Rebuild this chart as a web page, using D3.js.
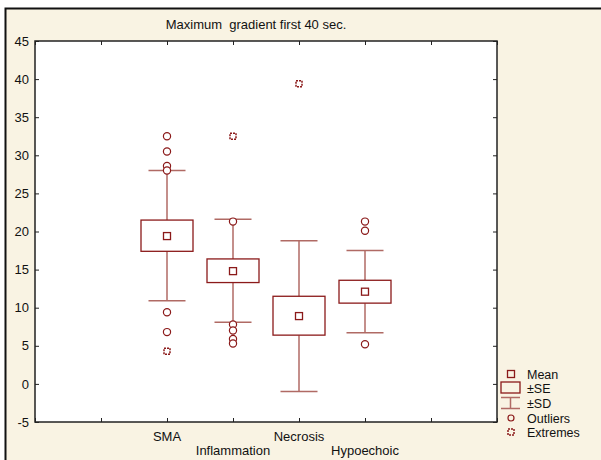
<!DOCTYPE html>
<html>
<head>
<meta charset="utf-8">
<script src="https://cdn.jsdelivr.net/npm/d3@7"></script>
<style>
  body { margin: 0; background: #fff; }
  text { font-family: Arial, "Liberation Sans", sans-serif; fill: #111; }
</style>
</head>
<body>
<script>
// ---------------- data ----------------
var categories = ["SMA", "Inflammation", "Necrosis", "Hypoechoic"];
var catPos = [2, 3, 4, 5];
var means = [19.4, 14.8, 8.9, 12.1];
var seLow = [17.4, 13.3, 6.4, 10.6];
var seHigh = [21.5, 16.4, 11.5, 13.6];
var sdLow = [10.9, 8.1, -1.0, 6.7];
var sdHigh = [28.0, 21.6, 18.8, 17.5];
var outliers = [
  [32.5, 30.5, 28.6, 28.0, 9.4, 6.8],
  [21.3, 7.8, 7.0, 5.9, 5.3],
  [],
  [21.3, 20.1, 5.2]
];
var extremes = [[4.3], [32.5], [39.4], []];
var yTicks = [-5, 0, 5, 10, 15, 20, 25, 30, 35, 40, 45];
var xTicks = [0, 1, 2, 3, 4, 5, 6, 7];
var legendLabels = ["Mean", "±SE", "±SD", "Outliers", "Extremes"];

var width = 601, height = 460;
var boxColor = "#8b1a1a";
var whiskColor = "#b06a64";
var font = "Arial, 'Liberation Sans', sans-serif";

var svg = d3.select("body").append("svg")
  .attr("width", width)
  .attr("height", height);

// background panel
svg.append("rect")
  .attr("x", 5).attr("y", 8)
  .attr("width", width - 5).attr("height", height - 8)
  .attr("fill", "#f9f3e3");
svg.append("path")
  .attr("d", "M5.5," + height + "V8.5H" + width)
  .attr("fill", "none").attr("stroke", "#111").attr("stroke-width", 2);

var x = d3.scaleLinear().domain([0, 7]).range([35, 497]);
var y = d3.scaleLinear().domain([-5, 45]).range([422, 41]);

// plot area
svg.append("rect")
  .attr("x", x(0)).attr("y", y(45))
  .attr("width", x(7) - x(0)).attr("height", y(-5) - y(45))
  .attr("fill", "#fff").attr("stroke", "#222").attr("stroke-width", 1.5);

// axes
var gl = svg.append("g").attr("transform", "translate(" + x(0) + ",0)")
  .call(d3.axisLeft(y).tickValues(yTicks).tickSizeInner(-4).tickSizeOuter(0)
    .tickFormat(function (d) { return String(d); }));
var gr = svg.append("g").attr("transform", "translate(" + x(7) + ",0)")
  .call(d3.axisRight(y).tickValues(yTicks).tickSizeInner(-4).tickSizeOuter(0).tickFormat(""));
var gt = svg.append("g").attr("transform", "translate(0," + y(45) + ")")
  .call(d3.axisTop(x).tickValues(xTicks).tickSizeInner(-4).tickSizeOuter(0).tickFormat(""));
var gb = svg.append("g").attr("transform", "translate(0," + y(-5) + ")")
  .call(d3.axisBottom(x).tickValues(xTicks).tickSizeInner(-4).tickSizeOuter(0).tickFormat(""));
[gl, gr, gt, gb].forEach(function (g) {
  g.select(".domain").remove();
  g.selectAll(".tick line").attr("stroke", "#222");
  g.selectAll("text").attr("font-size", 13).attr("font-family", font).attr("fill", "#111");
});
gl.selectAll(".tick text").attr("x", -6);

// category labels (staggered)
svg.selectAll(".cat")
  .data(categories)
  .enter().append("text")
  .attr("class", "cat")
  .attr("x", function (d, i) { return x(catPos[i]); })
  .attr("y", function (d, i) { return i % 2 == 0 ? 441 : 455; })
  .attr("text-anchor", "middle")
  .attr("font-size", 13)
  .text(function (d) { return d; });

// title
svg.append("text")
  .attr("x", 256).attr("y", 29)
  .attr("text-anchor", "middle")
  .attr("font-size", 13)
  .attr("xml:space", "preserve")
  .text("Maximum  gradient first 40 sec.");

// boxes
var boxW = 52, capW = 37;
var g = svg.append("g");
categories.forEach(function (c, i) {
  var cx = x(catPos[i]);
  // whiskers
  g.append("line").attr("x1", cx).attr("x2", cx)
    .attr("y1", y(sdHigh[i])).attr("y2", y(seHigh[i]))
    .attr("stroke", whiskColor).attr("stroke-width", 1.5);
  g.append("line").attr("x1", cx).attr("x2", cx)
    .attr("y1", y(seLow[i])).attr("y2", y(sdLow[i]))
    .attr("stroke", whiskColor).attr("stroke-width", 1.5);
  [sdHigh[i], sdLow[i]].forEach(function (v) {
    g.append("line").attr("x1", cx - capW / 2).attr("x2", cx + capW / 2)
      .attr("y1", y(v)).attr("y2", y(v))
      .attr("stroke", whiskColor).attr("stroke-width", 1.5);
  });
  // SE box
  g.append("rect")
    .attr("x", cx - boxW / 2).attr("y", y(seHigh[i]))
    .attr("width", boxW).attr("height", y(seLow[i]) - y(seHigh[i]))
    .attr("fill", "#fff").attr("stroke", boxColor).attr("stroke-width", 1.3);
  // mean
  g.append("rect")
    .attr("x", cx - 3.5).attr("y", y(means[i]) - 3.5)
    .attr("width", 7).attr("height", 7)
    .attr("fill", "#fff").attr("stroke", boxColor).attr("stroke-width", 1.3);
  // outliers
  outliers[i].forEach(function (v) {
    g.append("circle").attr("cx", cx).attr("cy", y(v)).attr("r", 3.6)
      .attr("fill", "#fff").attr("stroke", boxColor).attr("stroke-width", 1.2);
  });
  // extremes
  extremes[i].forEach(function (v) {
    g.append("rect").attr("x", cx - 3).attr("y", y(v) - 3)
      .attr("width", 6).attr("height", 6)
      .attr("fill", "none").attr("stroke", boxColor).attr("stroke-width", 1.5)
      .attr("stroke-dasharray", "2,1");
  });
});

// legend
var lx = 511, ly = [374, 388, 403, 418, 432];
var lg = svg.append("g");
lg.append("rect").attr("x", lx - 3.5).attr("y", ly[0] - 3.5).attr("width", 7).attr("height", 7)
  .attr("fill", "none").attr("stroke", boxColor).attr("stroke-width", 1.3);
lg.append("rect").attr("x", 501).attr("y", 382).attr("width", 19).attr("height", 11)
  .attr("fill", "none").attr("stroke", boxColor).attr("stroke-width", 1.3);
lg.append("path").attr("d", "M501,397.5H520M501,408.5H520M510.5,397.5V408.5")
  .attr("fill", "none").attr("stroke", whiskColor).attr("stroke-width", 1.5);
lg.append("circle").attr("cx", lx).attr("cy", ly[3]).attr("r", 3)
  .attr("fill", "none").attr("stroke", boxColor).attr("stroke-width", 1.2);
lg.append("rect").attr("x", lx - 3).attr("y", ly[4] - 3).attr("width", 6).attr("height", 6)
  .attr("fill", "none").attr("stroke", boxColor).attr("stroke-width", 1.5)
  .attr("stroke-dasharray", "2,1");
lg.selectAll("text")
  .data(legendLabels)
  .enter().append("text")
  .attr("x", 527)
  .attr("y", function (d, i) { return ly[i] + 4.5; })
  .attr("font-size", 12.5)
  .text(function (d) { return d; });
</script>
</body>
</html>
